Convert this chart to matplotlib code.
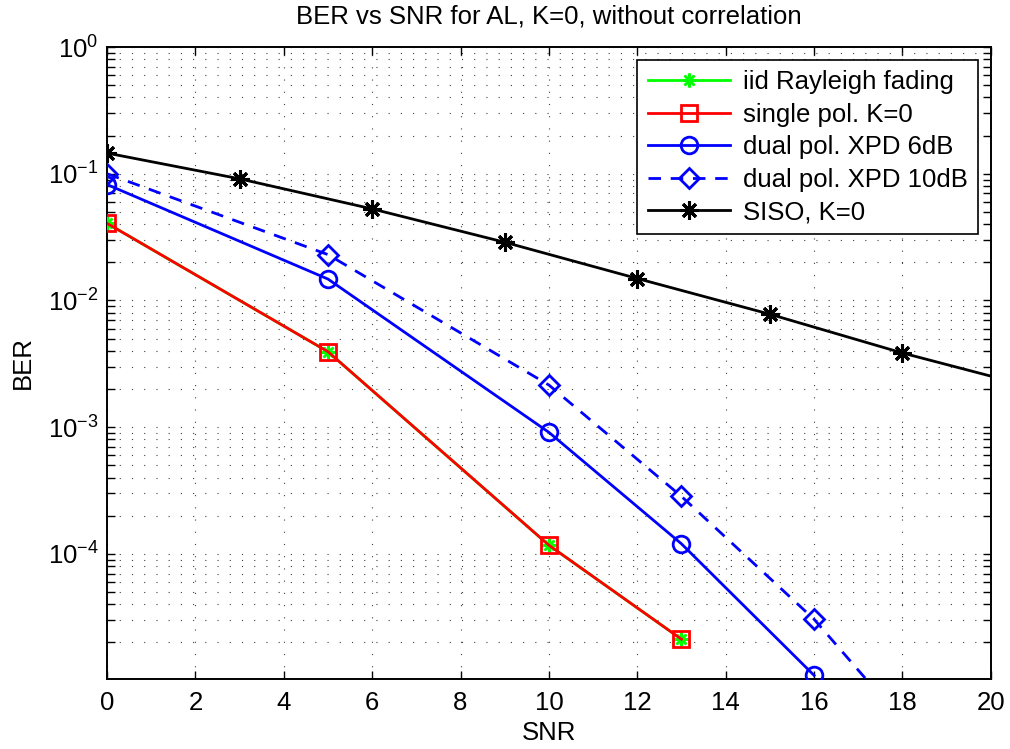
import matplotlib
matplotlib.use("Agg")
import matplotlib.pyplot as plt
from matplotlib.ticker import LogLocator, NullFormatter, MultipleLocator

plt.rcParams['font.family'] = ['Liberation Sans', 'DejaVu Sans']
plt.rcParams['mathtext.fontset'] = 'custom'
plt.rcParams['mathtext.rm'] = 'Liberation Sans'
plt.rcParams['mathtext.it'] = 'Liberation Sans:italic'
plt.rcParams['mathtext.default'] = 'regular'

# ---- data ----
snr_iid = [0, 5, 10, 13]
ber_iid = [0.0406, 0.00394, 1.17e-4, 2.12e-5]

snr_single = [0, 5, 10, 13]
ber_single = [0.0406, 0.00394, 1.17e-4, 2.12e-5]

snr_dual6 = [0, 5, 10, 13, 16]
ber_dual6 = [0.0822, 0.01475, 9.1e-4, 1.2e-4, 1.1e-5]

snr_dual10 = [0, 5, 10, 13, 16, 19]
ber_dual10 = [0.100, 0.0230, 0.00215, 2.84e-4, 3.05e-5, 1.9e-6]

snr_siso = [0, 3, 6, 9, 12, 15, 18, 21]
ber_siso = [0.1456, 0.0912, 0.0528, 0.0288, 0.0149, 0.00779, 0.00385, 0.00205]

labels = ["iid Rayleigh fading", "single pol. K=0", "dual pol. XPD 6dB",
          "dual pol. XPD 10dB", "SISO, K=0"]
title = "BER vs SNR for AL, K=0, without correlation"

FS = 18.5
fig = plt.figure(figsize=(10.1, 7.49), dpi=100)
ax = fig.add_axes([0.106, 0.0935, 0.875, 0.8437])

ast = (8, 2, 0)
lw = 2.0
ax.plot(snr_iid, ber_iid, color='#00ff00', lw=lw, marker=ast, ms=10, mew=1.8,
        label=labels[0], zorder=3)
ax.plot(snr_single, ber_single, color='red', lw=lw, marker='s', ms=11, mfc='none',
        mew=2, label=labels[1], zorder=4)
ax.plot(snr_dual6, ber_dual6, color='blue', lw=lw, marker='o', ms=12, mfc='none',
        mew=2, label=labels[2], zorder=4)
ax.plot(snr_dual10, ber_dual10, color='blue', lw=lw, ls=(0, (4.5, 3.5)), marker='D',
        ms=10, mfc='none', mew=2, label=labels[3], zorder=4)
ax.plot(snr_siso, ber_siso, color='black', lw=lw, marker=ast, ms=13, mew=2.2,
        label=labels[4], zorder=4)

ax.set_yscale('log')
ax.set_xlim(0, 20)
ax.set_ylim(1.03e-5, 1)
ax.xaxis.set_major_locator(MultipleLocator(2))
ax.yaxis.set_major_locator(LogLocator(base=10, numticks=10))
ax.yaxis.set_minor_locator(LogLocator(base=10, subs=range(2, 10), numticks=20))
ax.yaxis.set_minor_formatter(NullFormatter())

ax.tick_params(which='both', direction='in', top=True, right=True, length=6,
               width=1, labelsize=FS)
ax.tick_params(axis='x', pad=9)
ax.tick_params(axis='y', pad=6)
grid_ls = (0, (1, 10))
ax.grid(True, which='major', axis='both', color='0.25', lw=0.8, ls=grid_ls)
ax.grid(True, which='minor', axis='y', color='0.25', lw=0.8, ls=grid_ls)
ax.set_axisbelow(True)
for s in ax.spines.values():
    s.set_linewidth(1.4)

ax.set_xlabel("SNR", fontsize=FS, labelpad=4)
ax.set_ylabel("BER", fontsize=FS, labelpad=9)
ax.set_title(title, fontsize=FS, pad=17)

leg = ax.legend(loc='upper right', fontsize=FS, frameon=True, fancybox=False,
                edgecolor='black', framealpha=1, borderaxespad=0.5,
                handlelength=3.2, handletextpad=0.5, labelspacing=0.33,
                borderpad=0.4)
leg.get_frame().set_linewidth(1.2)

fig.savefig("out.png", dpi=100)
